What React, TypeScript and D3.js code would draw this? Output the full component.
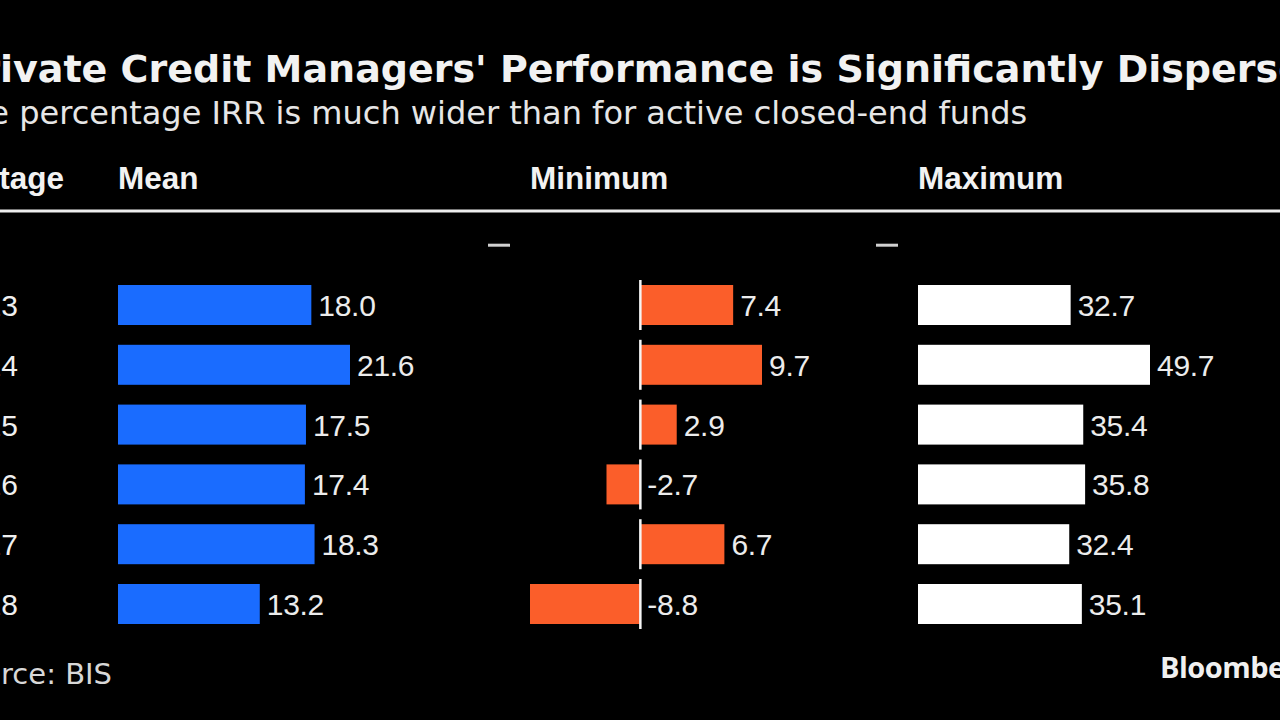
import React, { useLayoutEffect, useRef, useState } from "react";
import * as d3 from "d3";

const vintages = ["2013", "2014", "2015", "2016", "2017", "2018"];
const meanVals = [18.0, 21.6, 17.5, 17.4, 18.3, 13.2];
const minVals = [7.4, 9.7, 2.9, -2.7, 6.7, -8.8];
const maxVals = [32.7, 49.7, 35.4, 35.8, 32.4, 35.1];

const TITLE = "Private Credit Managers' Performance is Significantly Dispersed";
const SUBTITLE = "Dispersion of the percentage IRR is much wider than for active closed-end funds";
const SOURCE = "Source: BIS";

const W = 1280;
const H = 720;

const sansV = "'DejaVu Sans', Verdana, sans-serif";
const numFont = "'Liberation Sans', Arial, sans-serif";

export default function App() {
  const titleRef = useRef<SVGTextElement>(null);
  const subRef = useRef<SVGTextElement>(null);
  const srcRef = useRef<SVGTextElement>(null);
  const [offs, setOffs] = useState({ title: -40, sub: -280, src: -45 });

  useLayoutEffect(() => {
    const t = titleRef.current;
    const s = subRef.current;
    const r = srcRef.current;
    if (!t || !s || !r) return;
    const tPre = t.getSubStringLength(0, 2);
    const sPre = s.getSubStringLength(0, "Dispersion of the".length);
    const rLen = r.getComputedTextLength();
    setOffs({ title: 0 - tPre, sub: 9 - sPre, src: 112 - rLen });
  }, []);

  const colW = 232;
  const cols = [
    { name: "Mean", start: 118, vals: meanVals, color: "#1a6cff", dash: false },
    { name: "Minimum", start: 530, vals: minVals, color: "#fb5e2a", dash: true },
    { name: "Maximum", start: 918, vals: maxVals, color: "#ffffff", dash: true },
  ].map((c) => {
    const lo = Math.min(0, d3.min(c.vals)!);
    const hi = Math.max(0, d3.max(c.vals)!);
    const x = d3.scaleLinear().domain([lo, hi]).range([c.start, c.start + colW]);
    return { ...c, x, hasNeg: lo < 0 };
  });

  const y = d3.scalePoint<string>().domain(vintages).range([305, 604]);
  const step = y.step();
  const barH = 40;
  const labelRight = 18;

  return (
    <svg
      width={W}
      height={H}
      style={{ position: "fixed", left: 0, top: 0, background: "#000" }}
    >
      <rect x={0} y={0} width={W} height={H} fill="#000" />
      <text
        ref={titleRef}
        x={offs.title}
        y={82}
        fill="#f2f2f2"
        fontFamily={sansV}
        fontWeight="bold"
        fontSize={38}
      >
        {TITLE}
      </text>
      <text ref={subRef} x={offs.sub} y={124} fill="#e6e6e6" fontFamily={sansV} fontSize={32}>
        {SUBTITLE}
      </text>

      <text x={labelRight} y={189} fill="#f2f2f2" fontFamily={numFont} fontWeight="bold" fontSize={31.5} textAnchor="end" dx={46}>
        Vintage
      </text>
      {cols.map((c) => (
        <text key={c.name} x={c.start} y={189} fill="#f2f2f2" fontFamily={numFont} fontWeight="bold" fontSize={31.5}>
          {c.name}
        </text>
      ))}
      <line x1={0} x2={W} y1={211} y2={211} stroke="#eeeeee" strokeWidth={3} />

      {cols
        .filter((c) => c.dash)
        .map((c) => (
          <line
            key={c.name + "dash"}
            x1={c.start - 42}
            x2={c.start - 20}
            y1={y(vintages[0])! - step}
            y2={y(vintages[0])! - step}
            stroke="#d0d0d0"
            strokeWidth={3}
          />
        ))}

      {vintages.map((v, i) => {
        const cy = y(v)!;
        return (
          <g key={v}>
            <text x={labelRight} y={cy + 11} fill="#f0f0f0" fontFamily={numFont} fontSize={30} textAnchor="end">
              {v}
            </text>
            {cols.map((c) => {
              const val = c.vals[i];
              const x0 = c.x(0);
              const x1 = c.x(val);
              const left = Math.min(x0, x1);
              const w = Math.abs(x1 - x0);
              const labelX = Math.max(x0, x1) + 7;
              return (
                <g key={c.name}>
                  <rect x={left} y={cy - barH / 2} width={w} height={barH} fill={c.color} />
                  {c.hasNeg && (
                    <line
                      x1={x0}
                      x2={x0}
                      y1={cy - barH / 2 - 5}
                      y2={cy + barH / 2 + 5}
                      stroke="#f5f5f5"
                      strokeWidth={2.5}
                    />
                  )}
                  <text
                    x={labelX}
                    y={cy + 11}
                    fill="#ececec"
                    fontFamily={numFont}
                    fontSize={30}
                    letterSpacing={-0.3}
                  >
                    {val.toFixed(1)}
                  </text>
                </g>
              );
            })}
          </g>
        );
      })}

      <text ref={srcRef} x={offs.src} y={684} fill="#d8d8d8" fontFamily={sansV} fontSize={29}>
        {SOURCE}
      </text>
      <text x={1160} y={678} fill="#f0f0f0" fontFamily="'Open Sans'" fontWeight="bold" fontSize={29} letterSpacing={-0.5}>
        Bloomberg
      </text>
    </svg>
  );
}
